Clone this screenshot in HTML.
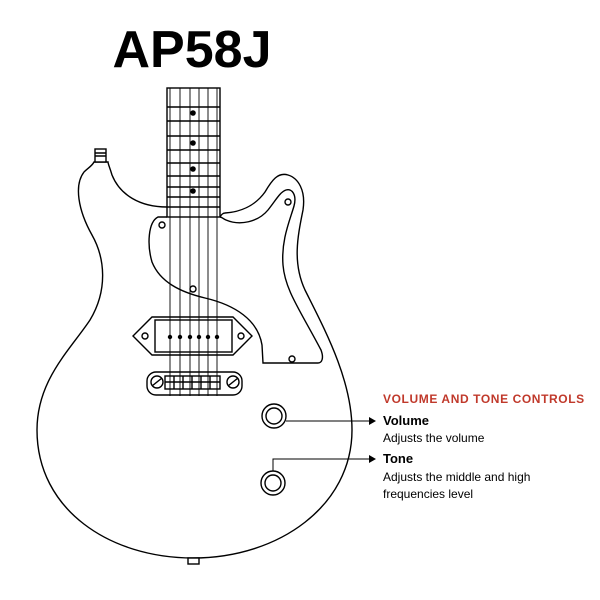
<!DOCTYPE html>
<html><head><meta charset="utf-8"><style>
html,body{margin:0;padding:0;background:#fff;}
svg{display:block}
</style></head><body>
<svg width="600" height="600" viewBox="0 0 600 600" xmlns="http://www.w3.org/2000/svg">
<text x="192" y="67" text-anchor="middle" font-family="Liberation Sans, sans-serif" font-weight="bold" font-size="52" fill="#000">AP58J</text>
<g fill="none" stroke="#000" stroke-width="1.4">
<path d="M167,207 C140,207 120,195 112,175 C110,168 108,164 108,162 L94,162 C92,166 88,168 84,172 C74,185 78,210 92,235 C105,258 108,290 90,320 C70,350 37,380 37,430 C37,510 110,558 193,558 C280,558 352,505 352,430 C352,380 325,330 305,290 C292,262 298,235 303,210 C306,190 298,178 288,175 C278,172 272,180 265,192 C255,206 240,212 225,213 C223,213 221,215 220,217"/>
<path d="M167,217 L158,217 C148,222 147,245 152,262 C160,282 180,292 205,298 C235,305 258,320 262,345 L263,363 L318,363 C322,363 324,358 321,350 C300,310 285,290 283,265 C281,240 290,220 294,206 C297,195 292,188 286,190 C280,192 276,200 268,210 C258,222 240,226 226,220 C223,219 222,217 220,217"/>
<rect x="167" y="88" width="53" height="129" fill="#fff"/>
<path d="M167,107H220M167,121H220M167,136H220M167,150H220M167,163H220M167,176H220M167,187H220M167,197H220M167,207H220"/>
<rect x="95" y="149" width="11" height="13" fill="#fff"/>
<path d="M95,153H106M95,156H106"/>
<path d="M152,317 L233,317 L252,336 L233,355 L152,355 L133,336 Z" fill="#fff"/>
<rect x="155" y="320" width="77" height="32" fill="#fff"/>
<circle cx="145" cy="336" r="3"/><circle cx="241" cy="336" r="3"/>
<rect x="147" y="372" width="95" height="23" rx="9" fill="#fff"/>
<circle cx="157" cy="382" r="6"/><circle cx="233" cy="382" r="6"/>
<path d="M152,386L162,378M228,386L238,378"/>
<rect x="165" y="376" width="55" height="13"/>
<path d="M165,382H220M174,376V389M183,376V389M192,376V389M201,376V389M210,376V389"/>
<circle cx="162" cy="225" r="3"/><circle cx="288" cy="202" r="3"/>
<circle cx="193" cy="289" r="3"/><circle cx="292" cy="359" r="3"/>
<rect x="188" y="558" width="11" height="6" fill="#fff"/>
<circle cx="274" cy="416" r="12"/><circle cx="274" cy="416" r="8"/>
<circle cx="273" cy="483" r="12"/><circle cx="273" cy="483" r="8"/>
</g>
<g stroke="#000" stroke-width="0.9">
<path d="M170,88V396M180,88V396M190,88V396M199,88V396M208,88V396M217,88V396"/>
</g>
<g fill="#000">
<circle cx="193" cy="113" r="2.8"/><circle cx="193" cy="143" r="2.8"/>
<circle cx="193" cy="169" r="2.8"/><circle cx="193" cy="191" r="2.8"/>
<circle cx="170" cy="337" r="2.2"/><circle cx="180" cy="337" r="2.2"/><circle cx="190" cy="337" r="2.2"/>
<circle cx="199" cy="337" r="2.2"/><circle cx="208" cy="337" r="2.2"/><circle cx="217" cy="337" r="2.2"/>
</g>
<g stroke="#000" stroke-width="1" fill="none">
<path d="M286,421H370"/>
<path d="M273,471V459H370"/>
</g>
<path d="M369,417L376,421L369,425Z M369,455L376,459L369,463Z" fill="#000"/>
<g font-family="Liberation Sans, sans-serif" fill="#000">
<text x="383" y="403" font-size="12" font-weight="bold" letter-spacing="0.6" fill="#c0392b">VOLUME AND TONE CONTROLS</text>
<text x="383" y="425" font-size="13" font-weight="bold">Volume</text>
<text x="383" y="442" font-size="12">Adjusts the volume</text>
<text x="383" y="463" font-size="13" font-weight="bold">Tone</text>
<text x="383" y="481" font-size="12">Adjusts the middle and high</text>
<text x="383" y="498" font-size="12">frequencies level</text>
</g>
</svg>
</body></html>
